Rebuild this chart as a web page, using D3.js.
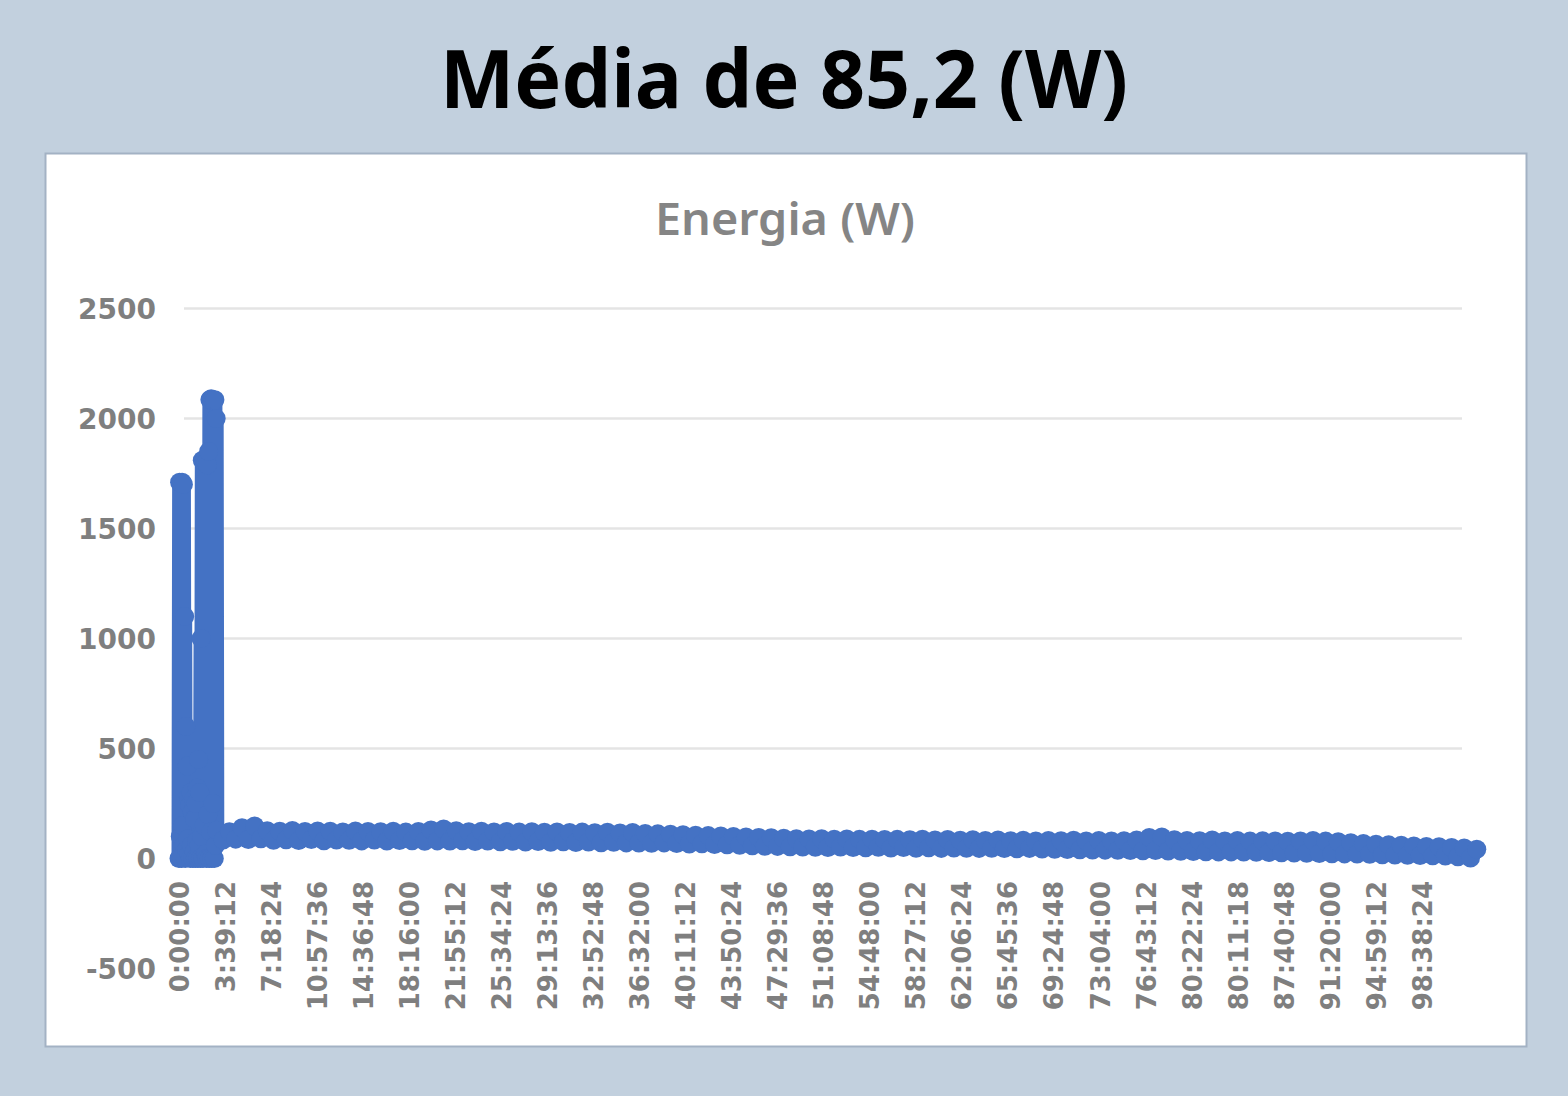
<!DOCTYPE html>
<html>
<head>
<meta charset="utf-8">
<script src="https://cdn.jsdelivr.net/npm/d3@7"></script>
<style>
  html, body { margin: 0; padding: 0; background: #c2d0de; }
  svg { display: block; }
</style>
</head>
<body>
<svg id="chart" width="1568" height="1096"></svg>
<script>
// ---------------- DATA ----------------
const chartTitle = "Média de 85,2 (W)";
const seriesTitle = "Energia (W)";

const yTickValues = [-500, 0, 500, 1000, 1500, 2000, 2500];

const xTickLabels = [
  "0:00:00", "3:39:12", "7:18:24", "10:57:36", "14:36:48", "18:16:00", "21:55:12",
  "25:34:24", "29:13:36", "32:52:48", "36:32:00", "40:11:12", "43:50:24", "47:29:36",
  "51:08:48", "54:48:00", "58:27:12", "62:06:24", "65:45:36", "69:24:48", "73:04:00",
  "76:43:12", "80:22:24", "80:11:18", "87:40:48", "91:20:00", "94:59:12", "98:38:24"
];
const xTickIntervalH = 3 + 39 / 60 + 12 / 3600; // 3:39:12 between labelled categories

// start-up phase: samples every 0.05 h from 0 h
const startupStepH = 0.05;
const startupWatts = [
  0, 1710, 100, 1705, 0, 1710, 150, 1700, 60, 1100,
  0, 600, 40, 420, 90, 280, 20, 240, 0, 300,
  60, 210, 0, 270, 30, 180, 0, 250, 80, 320,
  0, 450, 60, 300, 0, 1000, 100, 1810, 0, 1805,
  150, 1810, 20, 1800, 0, 1790, 200, 1850, 0, 2085,
  120, 2090, 0, 2085, 250, 2080, 0, 2085, 60, 2000
];

// steady phase: samples every 0.5 h from 3 h
const runStartH = 3;
const runStepH = 0.5;
const runWatts = [
  128, 84, 122, 88, 140, 86, 148, 90, 126, 83, 124, 85, 127, 82, 123, 86, 125, 81, 124, 84,
  121, 83, 125, 80, 123, 84, 122, 79, 124, 82, 120, 81, 123, 78, 130, 80, 134, 79, 126, 81,
  122, 77, 124, 79, 121, 76, 123, 78, 120, 75, 122, 77, 119, 74, 121, 76, 118, 73, 120, 75,
  117, 72, 119, 74, 116, 71, 118, 70, 114, 69, 112, 71, 110, 68, 108, 66, 106, 67, 104, 64,
  102, 62, 100, 60, 98, 58, 96, 56, 94, 55, 92, 53, 90, 52, 89, 51, 90, 50, 88, 52,
  89, 50, 87, 49, 88, 51, 86, 48, 87, 50, 85, 47, 88, 49, 84, 46, 86, 48, 83, 47,
  85, 46, 82, 47, 84, 45, 81, 44, 83, 46, 80, 43, 82, 42, 81, 41, 83, 40, 80, 39,
  82, 38, 80, 37, 81, 36, 84, 35, 96, 36, 98, 34, 85, 33, 82, 32, 81, 31, 84, 30,
  80, 30, 82, 29, 79, 28, 81, 27, 80, 26, 78, 25, 80, 24, 82, 23, 79, 22, 76, 21,
  72, 20, 68, 19, 65, 17, 62, 16, 60, 15, 57, 14, 55, 12, 53, 11, 50, 8, 48, 2,
  42
];

// ---------------- BUILD ----------------
const data = [
  ...startupWatts.map((w, i) => ({ t: i * startupStepH, w })),
  ...runWatts.map((w, i) => ({ t: runStartH + i * runStepH, w }))
];

const svg = d3.select("#chart");
const W = 1568, H = 1096;

svg.append("rect").attr("x", 0).attr("y", 0).attr("width", W).attr("height", H).attr("fill", "#c2d0de");

// main title
svg.append("text")
  .attr("x", 784).attr("y", 108)
  .attr("text-anchor", "middle")
  .attr("font-family", "'Noto Sans', sans-serif")
  .attr("font-weight", 700)
  .attr("font-size", 80)
  .attr("fill", "#000")
  .attr("textLength", 688)
  .attr("lengthAdjust", "spacingAndGlyphs")
  .text(chartTitle);

// white chart panel
svg.append("rect")
  .attr("x", 45.5).attr("y", 153.5).attr("width", 1481).attr("height", 893)
  .attr("fill", "#ffffff").attr("stroke", "#a3b2c4").attr("stroke-width", 2);

// chart title
svg.append("text")
  .attr("x", 785).attr("y", 235)
  .attr("text-anchor", "middle")
  .attr("font-family", "'Noto Sans', sans-serif")
  .attr("font-weight", 600)
  .attr("font-size", 45)
  .attr("fill", "#858585")
  .attr("textLength", 260)
  .attr("lengthAdjust", "spacingAndGlyphs")
  .text(seriesTitle);

// scales
const x = d3.scaleLinear().domain([0, 103]).range([179, 179 + 103 * 12.6]);
const y = d3.scaleLinear().domain([-500, 2500]).range([968.5, 308.5]);

// gridlines
svg.append("g").selectAll("line")
  .data(yTickValues.filter(v => v > 0))
  .join("line")
  .attr("x1", 184).attr("x2", 1462)
  .attr("y1", d => y(d)).attr("y2", d => y(d))
  .attr("stroke", "#e4e4e4").attr("stroke-width", 2.5);

// series
const color = "#4472c4";
svg.append("path")
  .datum(data)
  .attr("fill", "none")
  .attr("stroke", color)
  .attr("stroke-width", 15)
  .attr("stroke-linejoin", "round")
  .attr("stroke-linecap", "round")
  .attr("d", d3.line().x(d => x(d.t)).y(d => y(d.w)));

svg.append("g").selectAll("circle")
  .data(data)
  .join("circle")
  .attr("cx", d => x(d.t))
  .attr("cy", d => y(d.w))
  .attr("r", 9.5)
  .attr("fill", color);

// y axis
const yAxis = d3.axisLeft(y).tickValues(yTickValues).tickSize(0).tickPadding(0)
  .tickFormat(d => String(d));
const gy = svg.append("g").attr("transform", "translate(156,0)").call(yAxis);
gy.select(".domain").remove();
gy.selectAll("text")
  .attr("font-family", "'DejaVu Sans', sans-serif")
  .attr("font-weight", 700)
  .attr("font-size", 28)
  .attr("fill", "#7f7f7f")
  .attr("dy", "0.36em");

// x axis
const xAxis = d3.axisBottom(x)
  .tickValues(xTickLabels.map((_, i) => i * xTickIntervalH))
  .tickSize(0).tickPadding(0)
  .tickFormat((d, i) => xTickLabels[i]);
const gx = svg.append("g").attr("transform", "translate(0,870)").call(xAxis);
gx.select(".domain").remove();
gx.selectAll("text")
  .attr("font-family", "'DejaVu Sans', sans-serif")
  .attr("font-weight", 700)
  .attr("font-size", 26)
  .attr("fill", "#7f7f7f")
  .attr("text-anchor", "end")
  .attr("transform", "rotate(-90)")
  .attr("x", -11)
  .attr("y", 0)
  .attr("dy", "0.36em");
</script>
</body>
</html>
